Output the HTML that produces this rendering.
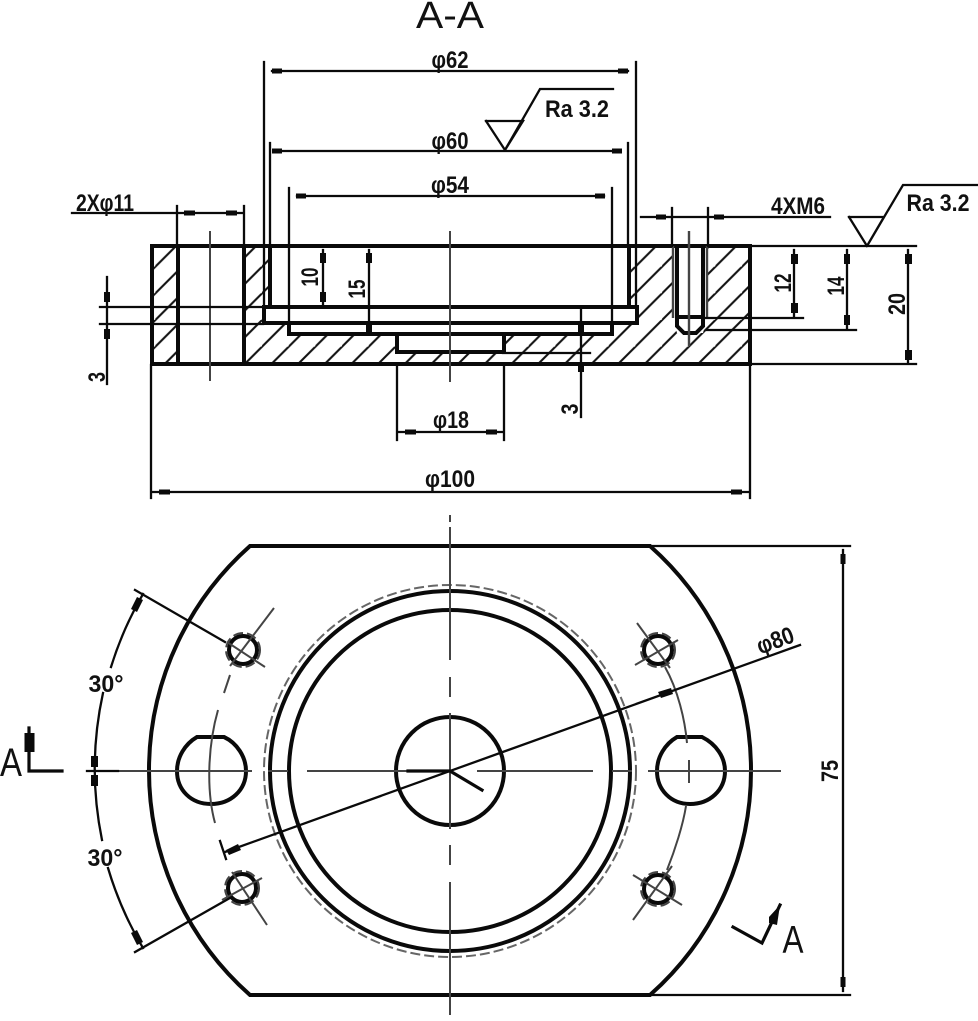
<!DOCTYPE html>
<html><head><meta charset="utf-8"><title>A-A</title>
<style>html,body{margin:0;padding:0;background:#fff}svg{display:block}
text{font-family:"Liberation Sans",sans-serif;fill:#111;text-anchor:middle}
.b text{font-weight:bold}
.k{stroke:#0a0a0a;fill:none;stroke-linecap:square}
.t4{stroke-width:4}.t3{stroke-width:3.2}.t2{stroke-width:2.3}
.g{stroke:#444;fill:none;stroke-width:2}
.a{fill:#0a0a0a;stroke:none}
</style></head><body>
<svg width="978" height="1021" viewBox="0 0 978 1021" xmlns="http://www.w3.org/2000/svg">
<defs>
<pattern id="h" patternUnits="userSpaceOnUse" width="26.67" height="26.67" patternTransform="translate(22 0)">
<line x1="-2" y1="28.67" x2="28.67" y2="-2" stroke="#111" stroke-width="2.1"/>
<line x1="-5" y1="5" x2="5" y2="-5" stroke="#111" stroke-width="2.1"/>
<line x1="22" y1="32" x2="32" y2="22" stroke="#111" stroke-width="2.1"/>
</pattern>
</defs>
<!-- hatch -->
<rect x="151" y="246" width="26" height="118" fill="url(#h)"/>
<path fill="url(#h)" d="M244 246H270V307H263V323H289V334H397V352H503V334H612V323H637V307H629V246H673V318L677 333H703L707 318V246H750V364H244Z"/>
<!-- section outline -->
<g class="k t4">
<path d="M152 246H750V364H152Z"/>
<path d="M178 246V364M244 246V364"/>
<path d="M270 246V307H637V323H264V307H270"/>
<path d="M289 323V334H612V323"/>
<path d="M397 334V352H504V334"/>
<path d="M629 246V307"/>
<path d="M677 246V317H703V246M677 317V326L684 333H696L703 326V317"/>
</g>
<g class="g"><path d="M673 246V318M707 246V318M689 231V346" stroke-width="2.4"/><path d="M450 231V382M210 231V381"/></g>
<!-- section dimension lines -->
<g class="k t2">
<path d="M264 62V307M636 62V307M272 71H628"/>
<path d="M270 143V246M628 143V246M278 151H620"/>
<path d="M289 188V334M612 188V334M297 196H604"/>
<path d="M72 213H244M177 206V246M244 206V246"/>
<path d="M641 217H830M672 208V246M708 208V246"/>
<path d="M323 250V305M369 250V330"/>
<path d="M100 307H263M100 324H263M107 277V384"/>
<path d="M581 307V417M503 353H590"/>
<path d="M397 365V440M504 365V440M397 432H504"/>
<path d="M151 365V498M750 365V498M151 492H750"/>
<path d="M750 246H916M750 364H916M703 318H803M707 330H856"/>
<path d="M794 250V316M847 250V328M908 250V362"/>
<path d="M486 121H523L505 150L540 89H613M486 121L505 150"/>
<path d="M849 217H884L867 246L903 185H977M849 217L867 246"/>
</g>
<g class="a">
<rect x="272" y="68.500" width="10" height="5"/><rect x="618" y="68.500" width="10" height="5"/>
<rect x="272" y="148.500" width="10" height="5"/><rect x="612" y="148.500" width="10" height="5"/>
<rect x="296" y="193.500" width="10" height="5"/><rect x="595" y="193.500" width="10" height="5"/>
<rect x="184" y="210.500" width="11" height="5"/><rect x="226" y="210.500" width="11" height="5"/>
<rect x="656" y="214.500" width="10" height="5"/><rect x="714" y="214.500" width="10" height="5"/>
<rect x="320" y="253" width="6" height="10"/><rect x="320" y="292" width="6" height="10"/>
<rect x="366" y="253" width="6" height="10"/><rect x="366" y="322" width="6" height="10"/>
<rect x="104" y="292" width="6" height="10"/><rect x="104" y="329" width="6" height="10"/>
<rect x="578" y="325" width="6" height="8"/><rect x="578" y="364" width="6" height="8"/>
<rect x="405" y="429.500" width="11" height="5"/><rect x="486" y="429.500" width="11" height="5"/>
<rect x="159" y="489.500" width="11" height="5"/><rect x="731" y="489.500" width="11" height="5"/>
<rect x="791" y="254" width="7" height="10"/><rect x="791" y="303" width="7" height="10"/>
<rect x="844" y="254" width="6" height="10"/><rect x="844" y="315" width="6" height="10"/>
<rect x="905" y="254" width="7" height="10"/><rect x="905" y="350" width="7" height="10"/>
<rect x="840.500" y="554" width="5" height="10"/><rect x="840.500" y="977" width="5" height="10"/>
<rect x="91" y="756" width="7" height="11"/><rect x="91" y="775" width="7" height="11"/>
<path d="M226 850L238 844L241 850L229 855Z"/>
<path d="M658 692L671 688L673 694L661 698Z"/>
<path d="M137 597L143 600L137 612L131 609Z"/>
<path d="M137 945L143 942L137 930L131 933Z"/>
<rect x="24.500" y="733" width="10" height="19"/>
<path d="M769 917L780 905L777 925L769 923Z"/>
</g>
<!-- plan view -->
<g class="k t4">
<path d="M250 546H650A300 300 0 0 1 650 995H250A300 300 0 0 1 250 546Z"/>
<circle cx="450" cy="771" r="180"/>
<circle cx="450" cy="771" r="161"/>
<circle cx="450" cy="771" r="54"/>
<path d="M197 737H224C237 743 246 757 246 771C246 790 231 804 211 804C191 804 177 790 177 771C177 757 185 744 197 737Z"/>
<path d="M677 737H702C716 744 725 757 725 771C725 790 710 804 690 804C671 804 657 790 657 771C657 757 665 744 677 737Z"/>
<circle cx="243" cy="650" r="14"/><circle cx="242" cy="888" r="14"/>
<circle cx="658" cy="650" r="14"/><circle cx="658" cy="889" r="14"/>
</g>
<g class="g" stroke-dasharray="10 4">
<circle cx="450" cy="771" r="186" stroke="#666"/>
<circle cx="243" cy="650" r="17"/><circle cx="242" cy="888" r="17"/>
<circle cx="658" cy="650" r="17"/><circle cx="658" cy="889" r="17"/>
</g>
<g class="g">
<path d="M118 771H252M268 771H288M307 771H423M477 771H593M612 771H632M648 771H781"/>
<path d="M450 515V522M450 527V660M450 677V697M450 713V829M450 845V865M450 882V1015"/>
<path d="M689 760V783"/>
<path d="M230 675L224 693M218 710C208 745 206 790 215 823"/>
<path d="M665 667C678 690 685 720 687 743M686 806C683 825 675 850 667 870"/>
<path d="M274 608L230 666"/>
<path d="M227 642L265 667"/>
<path d="M262 878L222 900"/>
<path d="M267 925L232 872"/>
<path d="M637 623L670 668"/>
<path d="M635 665L678 640"/>
<path d="M633 920L672 866"/>
<path d="M633 875L682 905"/>
</g>
<g class="k t2">
<path d="M87 771H118"/>
<path d="M135 590L225 642M135 952L230 898"/>
<path d="M143 594A355 355 0 0 0 111 667M103 693A355 355 0 0 0 102 840M108 868A355 355 0 0 0 143 948"/>
<path d="M225 852L800 645"/>
<path d="M220 841L226 859"/>
<path d="M650 546H850M650 995H850M843 550V991"/>
</g>
<g class="k t3">
<path d="M408 771H450L482 790"/>
<path d="M29 728V771H62"/>
<path d="M733 927L762 943L780 905"/>
</g>
<!-- text -->
<text x="450" y="28" font-size="38" textLength="68" lengthAdjust="spacingAndGlyphs">A-A</text>
<text x="11" y="776" font-size="40" textLength="22" lengthAdjust="spacingAndGlyphs">A</text>
<text x="793" y="953" font-size="39" textLength="21" lengthAdjust="spacingAndGlyphs">A</text>
<g font-size="24" class="b">
<text x="450" y="68" textLength="37" lengthAdjust="spacingAndGlyphs">φ62</text>
<text x="450" y="149" textLength="37" lengthAdjust="spacingAndGlyphs">φ60</text>
<text x="450" y="193" textLength="38" lengthAdjust="spacingAndGlyphs">φ54</text>
<text x="451" y="428" textLength="36" lengthAdjust="spacingAndGlyphs">φ18</text>
<text x="450" y="487" textLength="50" lengthAdjust="spacingAndGlyphs">φ100</text>
<text x="105" y="211" textLength="58" lengthAdjust="spacingAndGlyphs">2Xφ11</text>
<text x="798" y="214" textLength="54" lengthAdjust="spacingAndGlyphs">4XM6</text>
<text x="577" y="117" textLength="64" lengthAdjust="spacingAndGlyphs">Ra 3.2</text>
<text x="938" y="211" textLength="63" lengthAdjust="spacingAndGlyphs">Ra 3.2</text>
<text x="106" y="692" textLength="35" lengthAdjust="spacingAndGlyphs">30°</text>
<text x="105" y="866" textLength="35" lengthAdjust="spacingAndGlyphs">30°</text>
<text transform="translate(778 648) rotate(-20)" textLength="38" lengthAdjust="spacingAndGlyphs">φ80</text>
<text transform="translate(318 277) rotate(-90)" textLength="19" lengthAdjust="spacingAndGlyphs">10</text>
<text transform="translate(365 289) rotate(-90)" textLength="19" lengthAdjust="spacingAndGlyphs">15</text>
<text transform="translate(105 377) rotate(-90)" textLength="10" lengthAdjust="spacingAndGlyphs">3</text>
<text transform="translate(578 409) rotate(-90)" textLength="11" lengthAdjust="spacingAndGlyphs">3</text>
<text transform="translate(791 283) rotate(-90)" textLength="19" lengthAdjust="spacingAndGlyphs">12</text>
<text transform="translate(844 286) rotate(-90)" textLength="19" lengthAdjust="spacingAndGlyphs">14</text>
<text transform="translate(905 304) rotate(-90)" textLength="22" lengthAdjust="spacingAndGlyphs">20</text>
<text transform="translate(838 771) rotate(-90)" textLength="22" lengthAdjust="spacingAndGlyphs">75</text>
</g>
</svg>
</body></html>
